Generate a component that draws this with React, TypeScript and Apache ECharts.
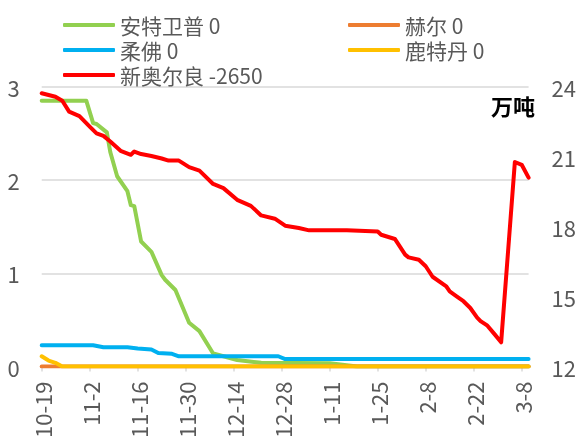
import React, { useEffect, useRef } from "react";
import * as echarts from "echarts";

// x tick labels every 14 days, starting at day 0 = 10-19
const xTickLabels = ["10-19", "11-2", "11-16", "11-30", "12-14", "12-28", "1-11", "1-25", "2-8", "2-22", "3-8"];
const xMaxDay = 142; // last data day (3-10)

const seriesNames = ["安特卫普", "赫尔", "柔佛", "鹿特丹", "新奥尔良"];
const seriesChanges = ["0", "0", "0", "0", "-2650"];
const seriesColors = ["#92D050", "#ED7D31", "#00B0F0", "#FFC000", "#FF0000"];

// day offsets from 10-19 and values (万吨)
const antwerpDays = [0, 13, 15, 16, 19, 20, 22, 25, 26, 27, 29, 32, 35, 36, 39, 43, 46, 50, 53, 57, 64, 84, 92, 142];
const antwerpValues = [2.85, 2.85, 2.61, 2.6, 2.51, 2.3, 2.04, 1.88, 1.73, 1.72, 1.34, 1.23, 0.98, 0.93, 0.82, 0.47, 0.38, 0.14, 0.11, 0.07, 0.04, 0.035, 0, 0];

const hullDays = [0, 142];
const hullValues = [0, 0];

const johorDays = [0, 15, 18, 25, 28, 32, 34, 38, 40, 69, 71, 142];
const johorValues = [0.228, 0.228, 0.207, 0.207, 0.193, 0.182, 0.145, 0.136, 0.11, 0.11, 0.08, 0.08];

const rotterdamDays = [0, 2, 4, 6, 142];
const rotterdamValues = [0.11, 0.064, 0.04, 0, 0];

const neworleansDays = [0, 4, 6, 8, 11, 14, 16, 18, 20, 23, 26, 27, 29, 32, 35, 37, 40, 43, 46, 50, 53, 57, 61, 64, 68, 71, 75, 78, 89, 98, 99, 103, 106, 107, 110, 112, 114, 118, 119, 121, 123, 125, 127, 128, 130, 132, 134, 138, 140, 142];
const neworleansValues = [23.72, 23.57, 23.4, 22.93, 22.74, 22.29, 22.0, 21.89, 21.65, 21.25, 21.08, 21.22, 21.11, 21.03, 20.92, 20.83, 20.83, 20.55, 20.4, 19.83, 19.65, 19.15, 18.89, 18.48, 18.34, 18.04, 17.94, 17.84, 17.84, 17.79, 17.65, 17.47, 16.8, 16.68, 16.58, 16.3, 15.85, 15.44, 15.22, 15.01, 14.8, 14.51, 14.1, 13.95, 13.75, 13.4, 13.04, 20.77, 20.65, 20.1];

const FONT = '"Noto Sans CJK SC", "Noto Sans", sans-serif';
const TEXT_COLOR = "#595959";

function pairs(days: number[], values: number[]) {
  return days.map((d, i) => [d, values[i]]);
}

export default function App() {
  const ref = useRef<HTMLDivElement>(null);
  useEffect(() => {
    if (!ref.current) return;
    const chart = echarts.init(ref.current, null, { renderer: "svg" });
    const allData = [
      pairs(antwerpDays, antwerpValues),
      pairs(hullDays, hullValues),
      pairs(johorDays, johorValues),
      pairs(rotterdamDays, rotterdamValues),
      pairs(neworleansDays, neworleansValues),
    ];
    const legendPos = [
      { left: 58, top: 8 },
      { left: 343, top: 8 },
      { left: 58, top: 33 },
      { left: 343, top: 33 },
      { left: 58, top: 58 },
    ];
    const tickDays = xTickLabels.map((_, i) => i * 14);
    chart.setOption({
      animation: false,
      textStyle: { fontFamily: FONT },
      grid: { left: 41.7, right: 45.5, top: 86.7, bottom: 74, containLabel: false },
      legend: seriesNames.map((n, i) => ({
        data: [n],
        left: legendPos[i].left,
        top: legendPos[i].top,
        icon: "roundRect",
        itemWidth: 52,
        itemHeight: 4,
        itemGap: 6,
        selectedMode: false,
        textStyle: { fontSize: 21, color: TEXT_COLOR, fontFamily: FONT, lineHeight: 24 },
        formatter: (name: string) => name + " " + seriesChanges[seriesNames.indexOf(name)],
      })),
      xAxis: {
        type: "value",
        min: 0,
        max: xMaxDay,
        interval: 14,
        axisLine: { show: true, lineStyle: { color: "#D9D9D9", width: 1.5 } },
        axisTick: { show: true, length: 5, customValues: tickDays, lineStyle: { color: "#D9D9D9", width: 1.5 } },
        splitLine: { show: false },
        axisLabel: {
          customValues: tickDays,
          rotate: 90,
          margin: 15,
          fontSize: 22,
          color: TEXT_COLOR,
          fontFamily: FONT,
          formatter: (v: number) => {
            const idx = Math.round(v / 14);
            return Math.abs(v - idx * 14) < 0.01 && xTickLabels[idx] ? xTickLabels[idx] : "";
          },
        },
      },
      yAxis: [
        {
          type: "value",
          min: 0,
          max: 3,
          interval: 1,
          axisLine: { show: false },
          axisTick: { show: false },
          splitLine: { show: true, lineStyle: { color: "#D9D9D9", width: 1.5 } },
          axisLabel: { fontSize: 22, color: TEXT_COLOR, margin: 22, fontFamily: FONT },
        },
        {
          type: "value",
          min: 12,
          max: 24,
          interval: 3,
          axisLine: { show: false },
          axisTick: { show: false },
          splitLine: { show: false },
          axisLabel: { fontSize: 22, color: TEXT_COLOR, margin: 23, fontFamily: FONT },
        },
      ],
      graphic: [
        {
          type: "text",
          right: 44,
          top: 94,
          style: { text: "万吨", font: 'bold 22px "Noto Sans CJK SC"', fill: "#000" },
        },
      ],
      series: seriesNames.map((n, i) => ({
        name: n,
        type: "line",
        yAxisIndex: i === 4 ? 1 : 0,
        data: allData[i],
        symbol: "none",
        color: seriesColors[i],
        lineStyle: { width: 4, color: seriesColors[i], cap: "round", join: "round" },
        z: i === 2 ? 3 : 2,
      })),
    });
    return () => chart.dispose();
  }, []);
  return <div ref={ref} style={{ position: "fixed", left: 0, top: 0, width: 579, height: 441 }} />;
}
